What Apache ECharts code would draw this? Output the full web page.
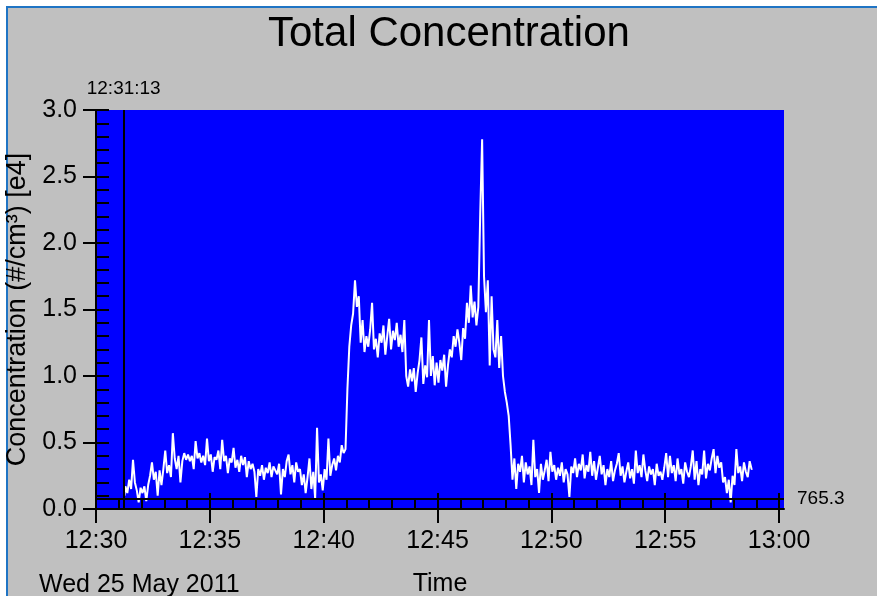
<!DOCTYPE html>
<html>
<head>
<meta charset="utf-8">
<script src="https://cdn.jsdelivr.net/npm/echarts@6/dist/echarts.min.js"></script>
<style>
html,body{margin:0;padding:0;background:#ffffff;width:877px;height:596px;overflow:hidden;}
#frame{position:absolute;left:6px;top:6px;width:871px;height:590px;background:#c0c0c0;border-left:2px solid #1f74c4;border-top:2px solid #1f74c4;box-sizing:border-box;}
#chart{position:absolute;left:0;top:0;width:877px;height:596px;}
</style>
</head>
<body>
<div id="frame"></div>
<div id="chart"></div>
<script>
// ---- data (concentration in units of 1e4 #/cm3) ----
const chartTitle = 'Total Concentration';
const dateLabel = 'Wed 25 May 2011';
const yAxisTitle = 'Concentration (#/cm\u00B3) [e4]';
const xAxisTitle = 'Time';
const axisStart = '12:30:00';
const axisEnd = '13:00:13';
const markerTime = '12:31:13';
const baselineValue = 765.3;           // #/cm3
const sampleStart = '12:31:15';
const sampleStepSeconds = 5;
const xTickLabels = ['12:30','12:35','12:40','12:45','12:50','12:55','13:00'];
const concentration = [
  // 12:31
  0.10,0.17,0.12,0.22,0.15,0.37,0.20,0.14,0.05,
  // 12:32
  0.16,0.12,0.17,0.06,0.18,0.25,0.35,0.22,0.28,0.10,0.29,0.18,
  // 12:33
  0.30,0.44,0.27,0.33,0.24,0.57,0.38,0.30,0.40,0.20,0.36,0.42,
  // 12:34
  0.37,0.41,0.36,0.40,0.30,0.51,0.38,0.42,0.35,0.40,0.33,0.53,
  // 12:35
  0.36,0.41,0.28,0.39,0.37,0.44,0.30,0.52,0.36,0.40,0.27,0.38,
  // 12:36
  0.35,0.46,0.31,0.37,0.28,0.40,0.33,0.39,0.24,0.36,0.30,0.34,
  // 12:37
  0.28,0.09,0.30,0.25,0.33,0.22,0.31,0.27,0.35,0.24,0.32,0.29,
  // 12:38
  0.26,0.34,0.11,0.30,0.24,0.36,0.41,0.26,0.33,0.20,0.35,0.28,
  // 12:39
  0.30,0.18,0.26,0.12,0.24,0.38,0.15,0.28,0.08,0.61,0.20,0.26,
  // 12:40
  0.14,0.30,0.22,0.53,0.25,0.33,0.38,0.29,0.40,0.35,0.48,0.42,
  // 12:41
  0.45,0.90,1.22,1.38,1.47,1.72,1.52,1.60,1.25,1.42,1.18,1.30,
  // 12:42
  1.22,1.35,1.55,1.20,1.28,1.14,1.32,1.25,1.38,1.16,1.30,1.43,
  // 12:43
  1.20,1.34,1.27,1.40,1.22,1.31,1.18,1.42,1.00,0.92,1.05,0.96,
  // 12:44
  1.06,0.88,1.02,1.12,1.29,0.94,1.08,0.99,1.42,1.00,1.15,0.93,
  // 12:45
  1.10,0.95,1.12,1.04,1.16,0.92,1.08,1.20,1.14,1.30,1.22,1.35,
  // 12:46
  1.25,1.12,1.36,1.28,1.55,1.40,1.68,1.44,1.56,1.38,1.52,2.22,
  // 12:47
  2.78,1.75,1.48,1.72,1.08,1.60,1.20,1.14,1.42,1.06,1.30,1.00,
  // 12:48
  0.88,0.80,0.70,0.48,0.22,0.38,0.15,0.34,0.28,0.40,0.20,0.35,
  // 12:49
  0.26,0.32,0.18,0.52,0.24,0.30,0.12,0.34,0.22,0.29,0.37,0.21,
  // 12:50
  0.43,0.28,0.33,0.22,0.31,0.25,0.35,0.20,0.30,0.26,0.09,0.32,
  // 12:51
  0.27,0.38,0.24,0.34,0.29,0.41,0.23,0.33,0.28,0.43,0.25,0.36,
  // 12:52
  0.22,0.31,0.40,0.26,0.33,0.18,0.30,0.24,0.36,0.21,0.29,0.34,
  // 12:53
  0.42,0.25,0.32,0.20,0.28,0.35,0.23,0.30,0.19,0.44,0.27,0.33,
  // 12:54
  0.24,0.41,0.29,0.21,0.32,0.26,0.30,0.18,0.34,0.25,0.28,0.22,
  // 12:55
  0.31,0.42,0.24,0.40,0.27,0.33,0.21,0.38,0.26,0.30,0.19,0.35,
  // 12:56
  0.28,0.24,0.32,0.44,0.22,0.36,0.18,0.30,0.26,0.44,0.23,0.34,
  // 12:57
  0.29,0.38,0.45,0.27,0.40,0.31,0.35,0.20,0.24,0.12,0.22,0.05,
  // 12:58
  0.25,0.18,0.45,0.27,0.32,0.21,0.35,0.28,0.24,0.36,0.30
];

// ---- helpers ----
function toSec(t){const p=t.split(':').map(Number);return p[0]*3600+p[1]*60+(p[2]||0);}
const t0 = toSec(axisStart);
const xMax = toSec(axisEnd) - t0;
const markerX = toSec(markerTime) - t0;
const startX = toSec(sampleStart) - t0;
const seriesData = concentration.map((v,i)=>[startX + i*sampleStepSeconds, v]);
const majorTicks = xTickLabels.map(l=>toSec(l+':00')-t0);
const minuteTicks = [];
for(let s=0;s<=majorTicks[majorTicks.length-1];s+=60) minuteTicks.push(s);
const labelMap = {}; majorTicks.forEach((s,i)=>labelMap[s]=xTickLabels[i]);

const FONT = 'Liberation Sans, Arial, sans-serif';
const chart = echarts.init(document.getElementById('chart'), null, {renderer:'canvas'});
const blackLine = {show:true, lineStyle:{color:'#000', width:2}};
chart.setOption({
  animation:false,
  backgroundColor:'transparent',
  title:[
    {text:chartTitle, left:263, top:8, textStyle:{fontFamily:FONT, fontSize:42, fontWeight:'normal', color:'#000'}},
    {text:dateLabel, left:34, top:568, textStyle:{fontFamily:FONT, fontSize:25, fontWeight:'normal', color:'#000'}}
  ],
  grid:{left:96, right:93, top:110, bottom:87, show:true, backgroundColor:'#0000ff', borderWidth:0,
        containLabel:false, outerBoundsMode:'none'},
  xAxis:[
    {type:'value', min:0, max:xMax, position:'bottom',
     name:xAxisTitle, nameLocation:'middle', nameGap:63,
     nameTextStyle:{fontFamily:FONT, fontSize:25, color:'#000'},
     axisLine:blackLine,
     axisTick:{show:true, inside:false, length:14, customValues:majorTicks, lineStyle:{color:'#000', width:2}},
     axisLabel:{show:true, customValues:majorTicks, margin:20, formatter:v=>labelMap[v]||'', fontFamily:FONT, fontSize:25, color:'#000'},
     splitLine:{show:false}},
    {type:'value', min:0, max:xMax, position:'bottom',
     axisLine:{show:false},
     axisTick:{show:true, inside:true, length:16, customValues:majorTicks, lineStyle:{color:'#000', width:2}},
     axisLabel:{show:false}, splitLine:{show:false}},
    {type:'value', min:0, max:xMax, position:'bottom',
     axisLine:{show:false},
     axisTick:{show:true, inside:true, length:11, customValues:minuteTicks, lineStyle:{color:'#000', width:2}},
     axisLabel:{show:false}, splitLine:{show:false}}
  ],
  yAxis:[
    {type:'value', min:0, max:3, interval:0.5, position:'left',
     name:yAxisTitle, nameLocation:'middle', nameGap:59,
     nameTextStyle:{fontFamily:FONT, fontSize:27, color:'#000'},
     axisLine:blackLine,
     axisTick:{show:true, inside:false, length:13, lineStyle:{color:'#000', width:2}},
     axisLabel:{margin:19, formatter:v=>v.toFixed(1), fontFamily:FONT, fontSize:25, color:'#000'},
     splitLine:{show:false}},
    {type:'value', min:0, max:3, interval:0.1, position:'left',
     axisLine:{show:false},
     axisTick:{show:true, inside:true, length:13, lineStyle:{color:'#000', width:2}},
     axisLabel:{show:false}, splitLine:{show:false}}
  ],
  series:[{
    type:'line', xAxisIndex:0, yAxisIndex:0,
    data:seriesData, showSymbol:false, step:'middle',
    lineStyle:{color:'#ffffff', width:2},
    markLine:{
      silent:true, symbol:['none','none'], animation:false,
      lineStyle:{color:'#000', width:2, type:'solid'},
      data:[
        {yAxis: baselineValue/1e4, label:{show:true, position:'end', distance:13, formatter:String(baselineValue), fontFamily:FONT, fontSize:19, color:'#000'}},
        {xAxis: markerX, label:{show:true, position:'end', distance:12, formatter:markerTime, fontFamily:FONT, fontSize:19, color:'#000'}}
      ]
    }
  }]
});
</script>
</body>
</html>
